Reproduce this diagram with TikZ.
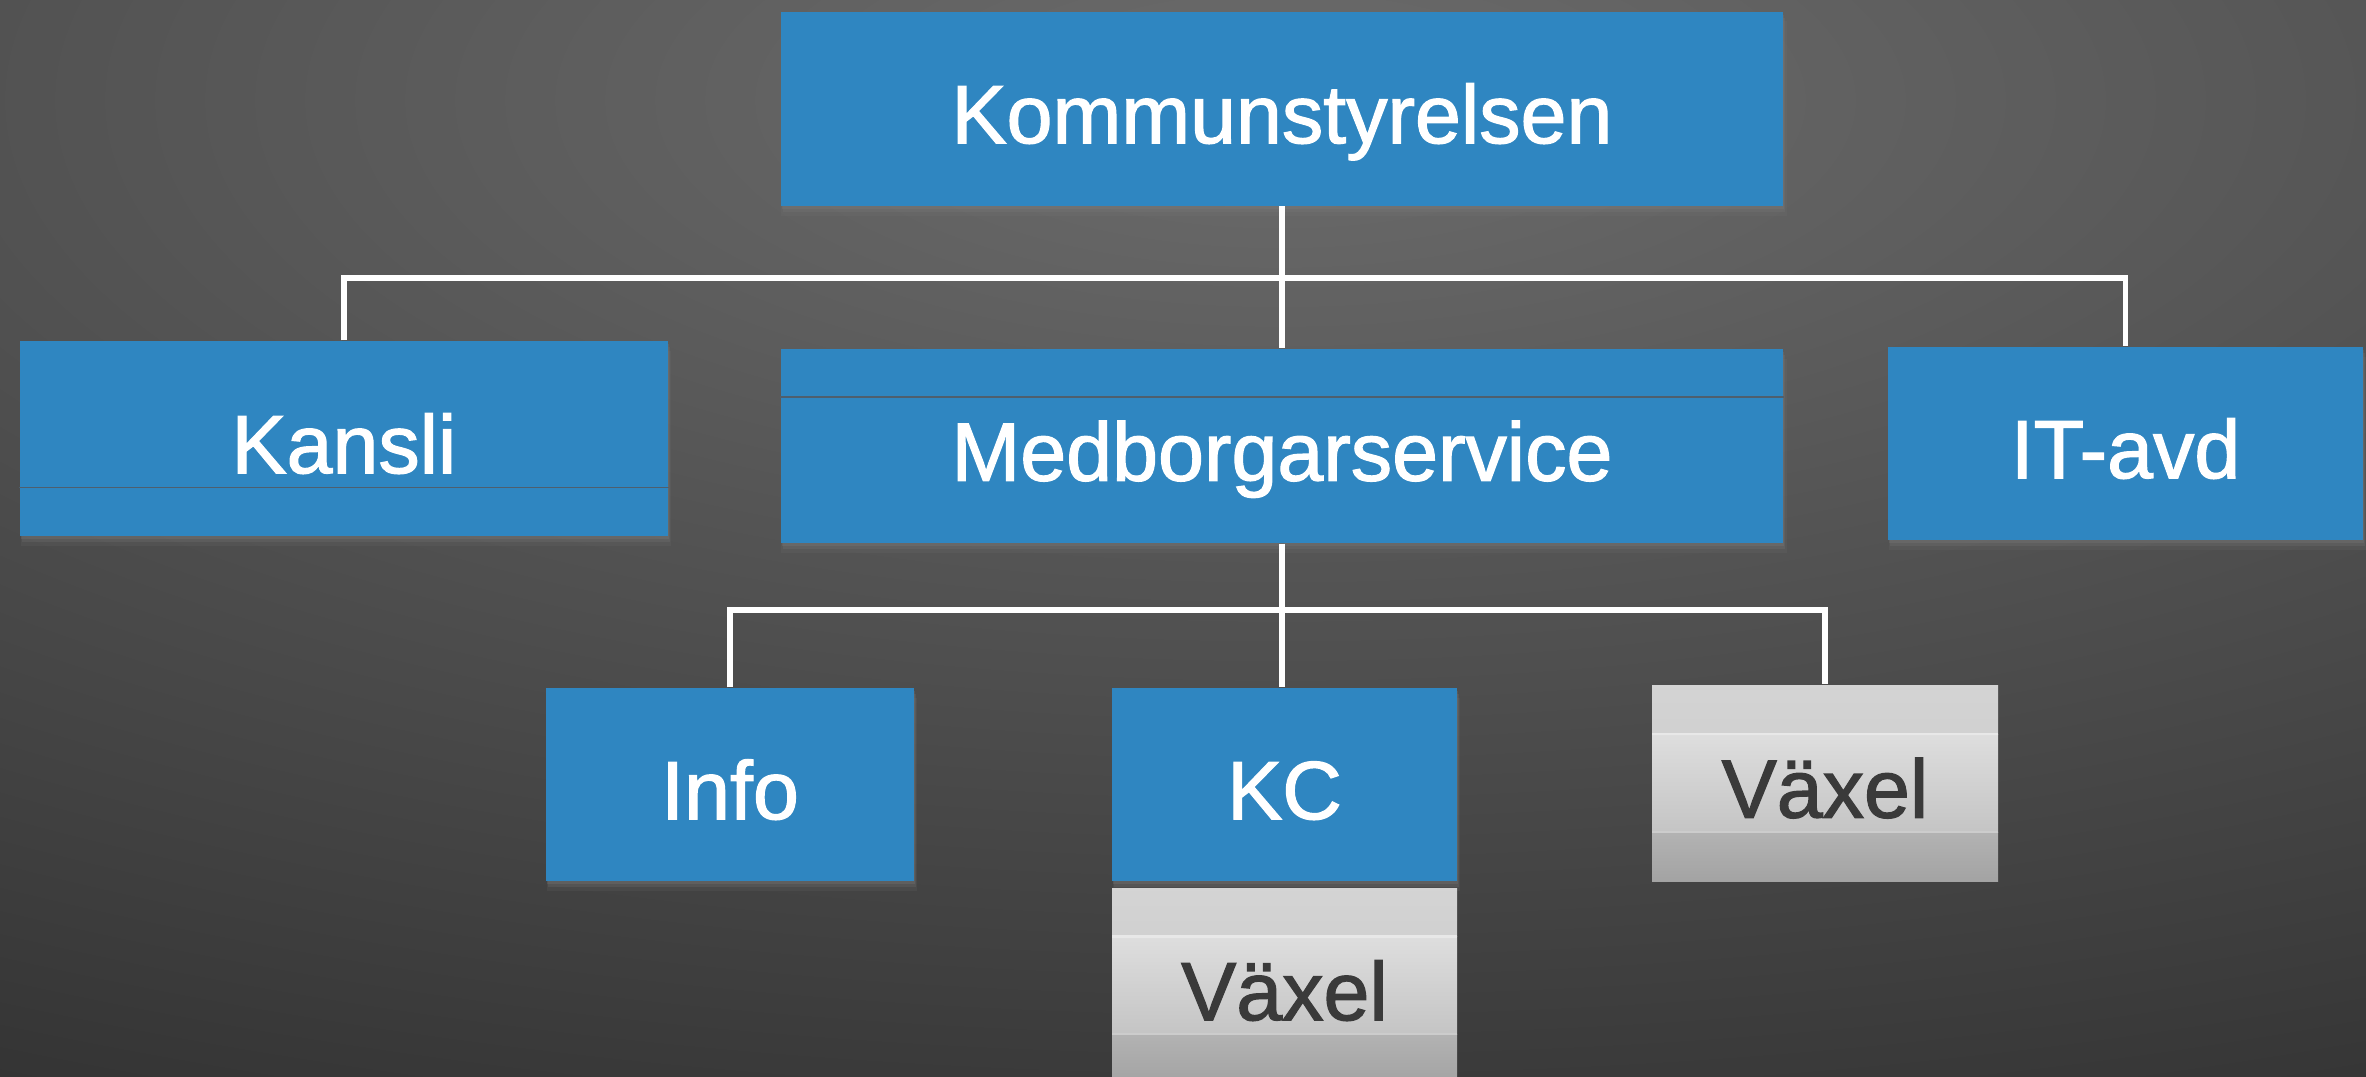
\documentclass[tikz,border=0pt]{standalone}
\usepackage{fontspec}
\setmainfont{Liberation Sans}
\newfontfamily\boxfont{Liberation Sans}[FakeBold=1.5]
\usetikzlibrary{calc,shadows}
\definecolor{box blue}{RGB}{47,134,193}
\definecolor{bg light}{HTML}{6C6C6C}
\definecolor{bg dark}{HTML}{303030}
\definecolor{seam}{HTML}{4E5F6E}
\definecolor{ink grey}{HTML}{3A3A3A}
\def\ppb{path picture bounding box}
\tikzset{label font/.style={font=\boxfont\fontsize{23.5}{28}\selectfont,
        text height=19.7pt, text depth=0pt},
    unit/.style={fill=box blue, text=white, inner sep=0pt, label font,
        drop shadow={shadow xshift=0.2mm, shadow yshift=-1.0mm, opacity=0.12, shadow scale=1.004},
        drop shadow={shadow xshift=0.2mm, shadow yshift=-0.6mm, opacity=0.2},
        drop shadow={shadow xshift=0.1mm, shadow yshift=-0.3mm, opacity=0.25}},
    grey unit/.style={inner sep=0pt, text=ink grey, label font,
        path picture={
            \shade[top color=black!17, bottom color=black!22]
                (\ppb.north west) rectangle ($(\ppb.north east)!.25!(\ppb.south east)$);
            \shade[top color=black!13, bottom color=black!23]
                ($(\ppb.north west)!.25!(\ppb.south west)$) rectangle ($(\ppb.north east)!.75!(\ppb.south east)$);
            \shade[top color=black!30, bottom color=black!36]
                ($(\ppb.north west)!.75!(\ppb.south west)$) rectangle (\ppb.south east);
            \draw[black!9, line width=0.8pt]
                ($(\ppb.north west)!.25!(\ppb.south west)$) -- ($(\ppb.north east)!.25!(\ppb.south east)$);
            \draw[black!20, line width=0.6pt]
                ($(\ppb.north west)!.75!(\ppb.south west)$) -- ($(\ppb.north east)!.75!(\ppb.south east)$);
        }},
    link/.style={draw=white, line width=1.5pt},
    rule/.style={draw=seam, line width=0.5pt}}

\begin{document}
\begin{tikzpicture}[x=1cm, y=-1cm]
    \useasboundingbox (0,0) rectangle (23.66,10.76);
    \clip (0,0) rectangle (23.66,10.76);
    \fill[bg dark] (0,0) rectangle (23.66,10.76);
    \shade[inner color=bg light, outer color=bg dark] (12.8,1.0) ellipse [x radius=30, y radius=11.8];

    % top level
    \node[unit, minimum width=10.02cm, minimum height=1.94cm] (kommun) at (12.82,1.085) {Kommunstyrelsen};

    % second level
    \node[unit, minimum width=6.48cm, minimum height=1.95cm] (kansli) at (3.44,4.385) {Kansli};
    \node[unit, minimum width=10.02cm, minimum height=1.94cm] (medborg) at (12.82,4.46) {Medborgarservice};
    \node[unit, minimum width=4.75cm, minimum height=1.93cm] (itavd) at (21.255,4.435) {IT-avd};
    \draw[rule] ($(kansli.south west)!.25!(kansli.north west)$) -- ($(kansli.south east)!.25!(kansli.north east)$);
    \draw[rule] ($(medborg.north west)!.25!(medborg.south west)$) -- ($(medborg.north east)!.25!(medborg.south east)$);

    % third level
    \node[unit, minimum width=3.68cm, minimum height=1.93cm] (info) at (7.30,7.845) {Info};
    \node[unit, minimum width=3.45cm, minimum height=1.93cm] (kc) at (12.845,7.845) {KC};
    \node[grey unit, minimum width=3.46cm, minimum height=1.96cm] (vaxel) at (18.25,7.83) {Växel};
    \node[grey unit, minimum width=3.45cm, minimum height=1.95cm] (kcvaxel) at (12.845,9.855) {Växel};

    \coordinate (split1) at (12.82,2.78);
    \coordinate (split2) at (12.83,6.10);
    \draw[link] (kommun.south) -- (medborg.north);
    \draw[link] (kansli.north) |- (split1) -| (itavd.north);
    \draw[link] (medborg.south) -- (medborg.south |- kc.north);
    \draw[link] (info.north) |- (split2) -| (vaxel.north);
\end{tikzpicture}
\end{document}
